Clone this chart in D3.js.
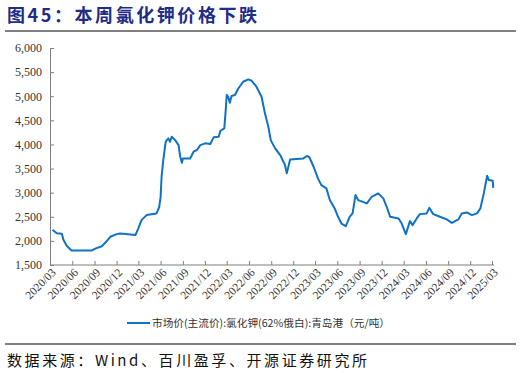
<!DOCTYPE html>
<html lang="zh">
<head>
  <meta charset="UTF-8">
  <title>本周氯化钾价格下跌</title>
  <script src="https://d3js.org/d3.v7.min.js"></script>
  <style>
    html, body {
      margin: 0;
      padding: 0;
      background: #fff;
    }
    .axis path, .axis line {
      stroke: #7f7f7f;
    }
    .axis text {
      font-family: "Liberation Serif", "Times New Roman", serif;
      fill: #333;
    }
    .price-line {
      fill: none;
      stroke: #0f72c4;
      stroke-width: 2px;
      stroke-linejoin: round;
    }
  </style>
</head>
<body>
  <div id="container"></div>
  <script>
    // data (weekly-ish samples)
    const dates = [
      '2020-03-11', '2020-03-29', '2020-04-19', '2020-04-25', '2020-05-09', '2020-05-29',
      '2020-08-20', '2020-09-04', '2020-10-01', '2020-10-15', '2020-11-05', '2020-12-02',
      '2020-12-16', '2021-02-17', '2021-03-01', '2021-03-14', '2021-04-04', '2021-05-15',
      '2021-05-26', '2021-06-01', '2021-06-05', '2021-06-12', '2021-06-22', '2021-07-03',
      '2021-07-10', '2021-07-17', '2021-07-31', '2021-08-14', '2021-08-21', '2021-08-28',
      '2021-09-01', '2021-10-01', '2021-10-15', '2021-10-29', '2021-11-12', '2021-12-02',
      '2021-12-23', '2022-01-06', '2022-01-27', '2022-02-03', '2022-02-19', '2022-02-25',
      '2022-03-01', '2022-03-07', '2022-03-14', '2022-03-21', '2022-04-04', '2022-04-18',
      '2022-05-08', '2022-05-29', '2022-06-12', '2022-07-02', '2022-07-23', '2022-08-06',
      '2022-08-20', '2022-08-30', '2022-09-17', '2022-10-08', '2022-10-28', '2022-11-04',
      '2022-11-18', '2023-01-12', '2023-01-26', '2023-02-05', '2023-02-23', '2023-03-13',
      '2023-03-27', '2023-04-17', '2023-05-01', '2023-05-21', '2023-06-04', '2023-06-18',
      '2023-07-06', '2023-07-22', '2023-08-03', '2023-08-15', '2023-08-26', '2023-10-01',
      '2023-10-21', '2023-11-17', '2023-12-08', '2023-12-22', '2024-01-05', '2024-02-09',
      '2024-02-22', '2024-03-10', '2024-03-27', '2024-04-07', '2024-04-24', '2024-05-07',
      '2024-06-04', '2024-06-15', '2024-07-01', '2024-07-29', '2024-08-26', '2024-09-16',
      '2024-10-13', '2024-10-27', '2024-11-17', '2024-12-08', '2024-12-29', '2025-01-12',
      '2025-01-26', '2025-02-09', '2025-02-16', '2025-03-04', '2025-03-06'
    ];
    const prices = [
      2230, 2160, 2150, 2030, 1900, 1800,
      1800, 1840, 1890, 1960, 2085, 2140,
      2155, 2120, 2260, 2430, 2535, 2570,
      2700, 2915, 3330, 3680, 4056, 4126,
      4056, 4160, 4090, 3987, 3745, 3620,
      3710, 3710, 3850, 3885, 3987, 4023,
      4008, 4147, 4160, 4284, 4334, 4713,
      5025, 4990, 4865, 5004, 5025, 5160,
      5300, 5350, 5320, 5197, 4990, 4645,
      4367, 4090, 3919, 3780, 3572, 3400,
      3690, 3710, 3760, 3740, 3537, 3296,
      3157, 3089, 2846, 2673, 2500, 2360,
      2306, 2500, 2570, 2950, 2846, 2777,
      2915, 2985, 2881, 2707, 2500, 2466,
      2360, 2140, 2410, 2327, 2466, 2555,
      2570, 2686, 2555, 2500, 2445, 2375,
      2445, 2570, 2590, 2535, 2570, 2673,
      2985, 3350, 3261, 3247, 3100
    ];
    const tickLabels = [
      '2020/03', '2020/06', '2020/09', '2020/12', '2021/03', '2021/06', '2021/09',
      '2021/12', '2022/03', '2022/06', '2022/09', '2022/12', '2023/03', '2023/06',
      '2023/09', '2023/12', '2024/03', '2024/06', '2024/09', '2024/12', '2025/03'
    ];
    const yTicks = [1500, 2000, 2500, 3000, 3500, 4000, 4500, 5000, 5500, 6000];

    const width = 521, height = 373;
    const margin = {top: 48, left: 50, right: 29, bottom: 108};

    const parseDay = d3.timeParse('%Y-%m-%d');
    const parseTick = d3.timeParse('%Y/%m');
    const data = dates.map((d, i) => ({date: parseDay(d), value: prices[i]}));

    const svg = d3.select('#container').append('svg')
      .attr('width', width).attr('height', height);

    // title + rule
    svg.append('text')
      .attr('x', 7).attr('y', 22)
      .attr('textLength', 250).attr('lengthAdjust', 'spacing')
      .style('font-family', '"Noto Sans CJK SC", sans-serif')
      .style('font-weight', 'bold').style('font-size', '18px')
      .style('fill', '#1f2d86')
      .text('图45：本周氯化钾价格下跌');
    svg.append('line')
      .attr('x1', 5).attr('x2', 516).attr('y1', 31).attr('y2', 31)
      .style('stroke', '#808080').style('stroke-width', 2);

    const g = svg.append('g');

    const xScale = d3.scaleTime()
      .domain([parseTick(tickLabels[0]), parseTick(tickLabels[tickLabels.length - 1])])
      .range([margin.left, width - margin.right]);
    const yScale = d3.scaleLinear()
      .domain([1500, 6000])
      .range([height - margin.bottom, margin.top]);

    const xAxis = d3.axisBottom(xScale)
      .tickValues(tickLabels.map(parseTick))
      .tickFormat(d3.timeFormat('%Y/%m'))
      .tickSize(-4).tickSizeOuter(0);
    const yAxis = d3.axisLeft(yScale)
      .tickValues(yTicks)
      .tickFormat(d3.format(','))
      .tickSize(-4).tickSizeOuter(0);

    const xg = g.append('g').attr('class', 'axis x-axis')
      .attr('transform', `translate(0,${height - margin.bottom})`)
      .call(xAxis);
    xg.select('.domain').attr('d', `M${margin.left},0H${width - margin.right + 2}`);
    xg.selectAll('text')
      .style('font-size', '11.5px')
      .attr('text-anchor', 'end')
      .attr('dx', 0).attr('dy', 0)
      .attr('transform', 'translate(4,6) rotate(-45)');

    const yg = g.append('g').attr('class', 'axis y-axis')
      .attr('transform', `translate(${margin.left},0)`)
      .call(yAxis);
    yg.selectAll('text')
      .style('font-size', '12px')
      .attr('x', -8);

    const line = d3.line()
      .x(d => xScale(d.date))
      .y(d => yScale(d.value));

    g.append('path')
      .datum(data)
      .attr('class', 'price-line')
      .attr('d', line);

    // legend
    const lg = svg.append('g').attr('transform', 'translate(127,323)');
    lg.append('line').attr('x1', 0).attr('x2', 23).attr('y1', 0).attr('y2', 0)
      .style('stroke', '#0f72c4').style('stroke-width', 2);
    lg.append('text')
      .attr('x', 25).attr('y', 4)
      .attr('textLength', 238).attr('lengthAdjust', 'spacingAndGlyphs')
      .style('font-family', '"Noto Sans CJK SC", sans-serif')
      .style('font-size', '10.5px').style('fill', '#333')
      .text('市场价(主流价):氯化钾(62%俄白):青岛港（元/吨）');

    // source
    svg.append('line')
      .attr('x1', 5).attr('x2', 516).attr('y1', 344).attr('y2', 344)
      .style('stroke', '#808080').style('stroke-width', 2);
    svg.append('text')
      .attr('x', 7).attr('y', 366)
      .attr('textLength', 360).attr('lengthAdjust', 'spacing')
      .style('font-family', '"Noto Sans CJK SC", sans-serif')
      .style('font-size', '15px').style('fill', '#111')
      .text('数据来源：Wind、百川盈孚、开源证券研究所');
  </script>
</body>
</html>
